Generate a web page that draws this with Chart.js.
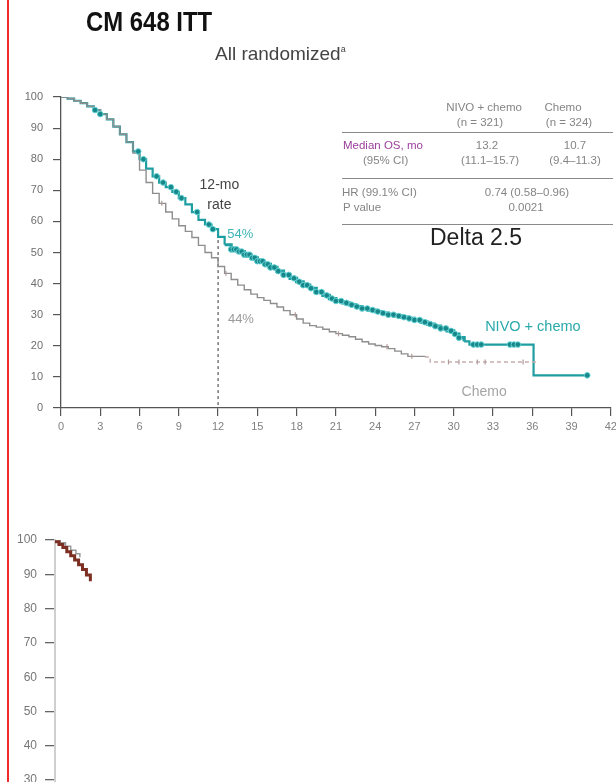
<!DOCTYPE html>
<html>
<head>
<meta charset="utf-8">
<script src="https://cdn.jsdelivr.net/npm/chart.js@4/dist/chart.umd.min.js"></script>
<style>
  html, body { margin: 0; padding: 0; background: #fff; width: 616px; height: 782px; overflow: hidden;
    font-family: "Liberation Sans", Arial, sans-serif; }
  .t { position: absolute; white-space: nowrap; line-height: 1; z-index: 2; }
  .c { transform: translateX(-50%); }
  .rule { position: absolute; left: 342px; width: 271px; height: 1px; background: #8a8a8a; z-index: 2; }
  .tab { font-size: 11.5px; color: #858585; }
  #redline { position: absolute; left: 7px; top: 0; width: 2px; height: 782px; background: #f02a2a; z-index: 3; }
  #top { position: absolute; left: 0; top: 0; }
  #bottom { position: absolute; left: 0; top: 490px; }
</style>
</head>
<body>
<div id="redline"></div>

<div class="t" style="left:86px;top:8.5px;font-size:27px;font-weight:bold;color:#111;transform:scaleX(0.885);transform-origin:left;">CM 648 ITT</div>
<div class="t" style="left:215px;top:44px;font-size:19px;color:#444;">All randomized<span style="font-size:9px;vertical-align:8px;">a</span></div>

<!-- summary table -->
<div class="t tab c" style="left:484px;top:102px;">NIVO + chemo</div>
<div class="t tab c" style="left:563px;top:102px;">Chemo</div>
<div class="t tab c" style="left:480px;top:117px;">(n = 321)</div>
<div class="t tab c" style="left:569px;top:117px;">(n = 324)</div>
<div class="rule" style="top:132px;"></div>
<div class="t tab" style="left:343px;top:140px;color:#9b3f9b;">Median OS, mo</div>
<div class="t tab c" style="left:487px;top:140px;">13.2</div>
<div class="t tab c" style="left:575px;top:140px;">10.7</div>
<div class="t tab" style="left:363px;top:155px;">(95% CI)</div>
<div class="t tab c" style="left:490px;top:155px;">(11.1–15.7)</div>
<div class="t tab c" style="left:575px;top:155px;">(9.4–11.3)</div>
<div class="rule" style="top:178px;"></div>
<div class="t tab" style="left:342px;top:187px;">HR (99.1% CI)</div>
<div class="t tab c" style="left:527px;top:187px;">0.74 (0.58–0.96)</div>
<div class="t tab" style="left:343px;top:201.5px;">P value</div>
<div class="t tab c" style="left:526px;top:201.5px;">0.0021</div>
<div class="rule" style="top:224px;"></div>
<div class="t" style="left:430px;top:225.5px;font-size:23px;color:#222;">Delta 2.5</div>

<canvas id="top" width="616" height="450"></canvas>
<canvas id="bottom" width="616" height="410"></canvas>

<script>
// --- data (months, % alive) ---
const xTicks = [0, 3, 6, 9, 12, 15, 18, 21, 24, 27, 30, 33, 36, 39, 42];
const yTicks = [0, 10, 20, 30, 40, 50, 60, 70, 80, 90, 100];

const nivoTimes = [0, 0.5, 1, 1.5, 2, 2.5, 3, 3.5, 4, 4.5, 5, 5.5, 6, 6.5, 7, 7.5, 8, 8.5, 9, 9.5,
  10, 10.5, 11, 11.5, 12, 12.5, 13, 13.5, 14, 14.5, 15, 15.5, 16, 16.5, 17, 17.5, 18, 18.5, 19, 19.5,
  20, 20.5, 21, 21.5, 22, 22.5, 23, 23.5, 24, 24.5, 25, 25.5, 26, 26.5, 27, 27.5, 28, 28.5, 29, 29.5,
  30, 30.4, 30.8, 31.2, 36.1, 40.2];
const nivoSurv = [100, 99.5, 98.8, 98, 97, 95.8, 94.5, 92.8, 90.5, 88, 85.5, 82.5, 80, 77, 74.5, 72.5, 71, 69.5, 67.5, 65.5,
  63, 60.5, 59, 57.5, 55, 52.5, 51, 50.3, 49.3, 48.3, 47.2, 46.2, 45.2, 44, 42.8, 41.7, 40.6, 39.5, 38.5, 37.3,
  36.2, 35.2, 34.4, 33.8, 33.2, 32.6, 32, 31.5, 31, 30.5, 30, 29.6, 29.2, 28.8, 28.3, 27.6, 27, 26.3, 25.6, 24.8,
  23.8, 22.6, 21.4, 20.4, 10.5, 10.5];
const nivoCensor = [2.6, 3.0, 5.9, 6.3, 7.3, 7.8, 8.4, 8.8, 9.2, 10.4, 11.3, 11.6,
  13.0, 13.2, 13.4, 13.6, 13.8, 14.0, 14.2, 14.4, 14.6, 14.8, 15.0, 15.2, 15.4, 15.6, 15.8, 16.0, 16.3,
  16.6, 17.0, 17.4, 17.8, 18.2, 18.5, 18.8, 19.1, 19.5, 19.9, 20.3, 20.7, 21.0, 21.4, 21.8, 22.2, 22.6,
  23.0, 23.4, 23.8, 24.2, 24.6, 25.0, 25.4, 25.8, 26.2, 26.6, 27.0, 27.4, 27.8, 28.2, 28.6, 29.0, 29.4,
  29.8, 30.1, 30.4, 31.5, 31.8, 32.1, 34.3, 34.6, 34.9, 40.2];

const chemoTimes = [0, 0.5, 1, 1.5, 2, 2.5, 3, 3.5, 4, 4.5, 5, 5.5, 6, 6.5, 7, 7.5, 8, 8.5, 9, 9.5,
  10, 10.5, 11, 11.5, 12, 12.5, 13, 13.5, 14, 14.5, 15, 15.5, 16, 16.5, 17, 17.5, 18, 18.5, 19, 19.5,
  20, 20.5, 21, 21.5, 22, 22.5, 23, 23.5, 24, 24.5, 25, 25.5, 26, 26.5, 27.8, 28.2, 36.4];
const chemoSurv = [100, 99.5, 98.8, 98, 97, 95.8, 94.5, 92.8, 90.5, 88, 85.5, 82, 76.5, 72.5, 69, 65.8, 63, 60.8, 58.6, 56.8,
  54.8, 52.3, 50, 48.3, 45.5, 43.3, 41.3, 39.5, 38, 36.6, 35.5, 34.6, 33.6, 32.5, 31.3, 30, 28.6, 27.3, 26.5, 26,
  25.3, 24.5, 23.9, 23.4, 22.9, 22.1, 21.3, 20.6, 20.1, 19.7, 19.1, 18.3, 17.4, 16.6, 16.4, 14.8, 14.8];
const chemoCensor = [7.7, 12.6, 17.9, 21.2, 24.9, 26.8, 29.6, 30.4, 31.8, 32.4, 35.3];

const rateMonth = 12;
const rates = [54, 44];          // 12-mo rate, NIVO + chemo / chemo

// second (cropped) panel
const panel2Times = [0, 0.3, 0.6, 0.9, 1.2, 1.5, 1.8, 2.1, 2.4, 2.7];
const panel2Surv  = [99.5, 98.7, 97.8, 96.6, 95.4, 94.2, 92.8, 91.4, 89.8, 88];
const panel2GreyTimes = [0, 0.4, 0.8, 1.2, 1.6, 1.9];
const panel2GreySurv  = [100, 99.2, 98.2, 97, 96, 95];

// --- helpers ---
const pts = (t, s) => t.map((v, i) => ({ x: v, y: s[i] }));
const survAt = (t, s, at) => { let v = s[0]; t.forEach((tv, i) => { if (tv <= at) v = s[i]; }); return v; };

const labelSpots = [
  { text: '12-mo', x: 12.1, y: 71.6, color: '#444', font: '14px "Liberation Sans", Arial', align: 'center' },
  { text: 'rate', x: 12.1, y: 65.1, color: '#444', font: '14px "Liberation Sans", Arial', align: 'center' },
  { text: rates[0] + '%', x: 12.7, y: 55.8, color: '#3db4b6', font: '13px "Liberation Sans", Arial', align: 'left' },
  { text: rates[1] + '%', x: 12.75, y: 28.5, color: '#9a9a9a', font: '13px "Liberation Sans", Arial', align: 'left' },
  { text: 'NIVO + chemo', x: 32.4, y: 26, color: '#2aa8aa', font: '14.5px "Liberation Sans", Arial', align: 'left' },
  { text: 'Chemo', x: 30.6, y: 5.1, color: '#a5a5a5', font: '14px "Liberation Sans", Arial', align: 'left' }
];

const curveText = {
  id: 'curveText',
  afterDatasetsDraw(chart, args, opts) {
    const { ctx, scales: { x, y } } = chart;
    (opts.items || []).forEach(it => {
      ctx.save();
      ctx.font = it.font;
      ctx.fillStyle = it.color;
      ctx.textAlign = it.align;
      ctx.textBaseline = 'middle';
      ctx.fillText(it.text, x.getPixelForValue(it.x), y.getPixelForValue(it.y));
      ctx.restore();
    });
  }
};

const axisColor = '#555';
const tickFont = { family: '"Liberation Sans", Arial', size: 11 };

// --- top panel ---
new Chart(document.getElementById('top'), {
  type: 'line',
  data: {
    datasets: [
      {
        data: pts(nivoCensor, nivoCensor.map(t => survAt(nivoTimes, nivoSurv, t))),
        showLine: false, pointStyle: 'circle', pointRadius: 2.8,
        pointBackgroundColor: '#17878a', pointBorderColor: '#62d2d4', pointBorderWidth: 1, order: 0
      },
      {
        data: pts(chemoCensor, chemoCensor.map(t => survAt(chemoTimes, chemoSurv, t))),
        showLine: false, pointStyle: 'line', rotation: 90, pointRadius: 2.5,
        pointBorderColor: '#b09a9a', pointBorderWidth: 1.2, order: 1
      },
      {
        data: pts(chemoTimes, chemoSurv), stepped: true, borderColor: '#8e8e8e', borderWidth: 1.4,
        pointRadius: 0, order: 2,
        segment: {
          borderDash: c => c.p0.parsed.x >= 27.8 ? [4, 3] : undefined,
          borderColor: c => c.p0.parsed.x >= 27.8 ? '#c6aeae' : undefined
        }
      },
      {
        data: pts(nivoTimes, nivoSurv), stepped: true, borderColor: '#1f9ea1', borderWidth: 2.2,
        pointRadius: 0, order: 3,
        segment: { borderWidth: c => (c.p0.parsed.x >= 12.5 && c.p0.parsed.x < 30.5) ? 3.2 : undefined }
      },
      {
        data: [{ x: rateMonth, y: rates[0] }, { x: rateMonth, y: 0 }],
        borderColor: '#555', borderWidth: 1.2, borderDash: [3, 3], pointRadius: 0, order: 4
      }
    ]
  },
  options: {
    responsive: false, animation: false,
    layout: { padding: { left: 0, right: 5, top: 97, bottom: 0 } },
    plugins: { legend: { display: false }, tooltip: { enabled: false }, curveText: { items: labelSpots } },
    scales: {
      x: {
        type: 'linear', min: 0, max: 42,
        afterBuildTicks: s => { s.ticks = xTicks.map(v => ({ value: v })); },
        afterFit: s => { s.height = 42; s.paddingLeft = 0; s.paddingRight = 0; },
        grid: { drawOnChartArea: false, tickLength: 8, color: axisColor, lineWidth: 1.2 },
        border: { color: axisColor, width: 1.3 },
        ticks: { padding: 4, color: '#808080', font: tickFont, maxRotation: 0, autoSkip: false }
      },
      y: {
        min: 0, max: 100,
        afterBuildTicks: s => { s.ticks = yTicks.map(v => ({ value: v })); },
        afterFit: s => { s.width = 61; s.paddingTop = 0; s.paddingBottom = 0; },
        grid: { drawOnChartArea: false, tickLength: 8, color: axisColor, lineWidth: 1.2 },
        border: { color: axisColor, width: 1.3 },
        ticks: { padding: 10, color: '#6e6e6e', font: tickFont }
      }
    }
  },
  plugins: [curveText]
});

// --- bottom panel (cut off by the page edge) ---
new Chart(document.getElementById('bottom'), {
  type: 'line',
  data: {
    datasets: [
      { data: pts(panel2Times, panel2Surv), stepped: true, borderColor: '#7c2f22', borderWidth: 3, pointRadius: 0 },
      { data: pts(panel2GreyTimes, panel2GreySurv), stepped: true, borderColor: '#9a9a9a', borderWidth: 1.5, pointRadius: 0 }
    ]
  },
  options: {
    responsive: false, animation: false,
    layout: { padding: { left: 0, right: 11, top: 50, bottom: 17 } },
    plugins: { legend: { display: false }, tooltip: { enabled: false } },
    scales: {
      x: { type: 'linear', min: 0, max: 42, display: false },
      y: {
        min: 0, max: 100,
        afterBuildTicks: s => { s.ticks = yTicks.map(v => ({ value: v })); },
        afterFit: s => { s.width = 55; s.paddingTop = 0; s.paddingBottom = 0; },
        grid: { drawOnChartArea: false, tickLength: 10, color: '#666', lineWidth: 1.3 },
        border: { color: '#cfcfcf', width: 2 },
        ticks: { padding: 8, color: '#777', font: { family: '"Liberation Sans", Arial', size: 12 } }
      }
    }
  }
});
</script>
</body>
</html>
